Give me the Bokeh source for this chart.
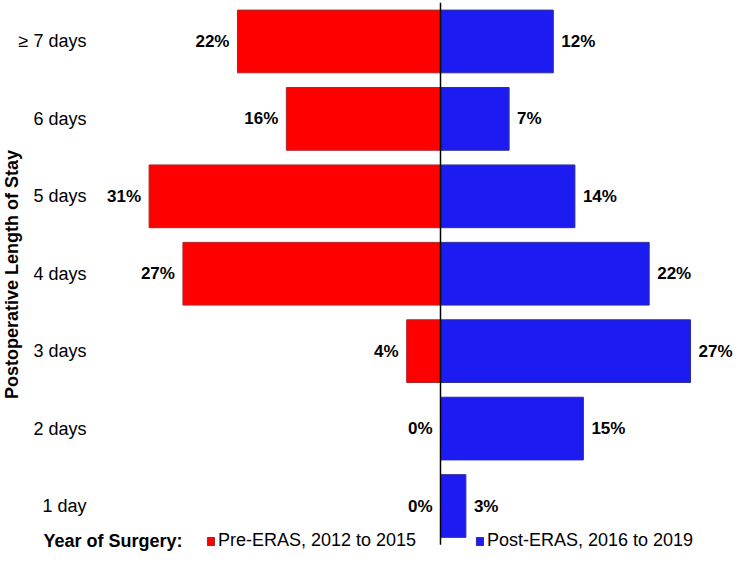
import math
from bokeh.plotting import figure
from bokeh.models import ColumnDataSource, Legend, LegendItem, Label, Range1d
from bokeh.core.properties import value
from bokeh.embed import file_html
from bokeh.resources import INLINE

# ---------------- data ----------------
categories = ["≥ 7 days", "6 days", "5 days", "4 days", "3 days", "2 days", "1 day"]
pre_eras = [21.6, 16.4, 31.0, 27.4, 3.6, 0.0, 0.0]
post_eras = [12.0, 7.3, 14.3, 22.2, 26.6, 15.2, 2.7]
pre_labels = ["22%", "16%", "31%", "27%", "4%", "0%", "0%"]
post_labels = ["12%", "7%", "14%", "22%", "27%", "15%", "3%"]
series_names = ["Pre-ERAS, 2012 to 2015", "Post-ERAS, 2016 to 2019"]
legend_title = "Year of Surgery:"
axis_title = "Postoperative Length of Stay"

# ---------------- geometry ----------------
W, H = 734, 551
PX_PER_PCT = 9.4
CENTER_PX = 440.0
ROW_PX = 77.42
BOTTOM_ROW_PX = 505.5  # from top of canvas

n = len(categories)
ypos = [n - 1 - i for i in range(n)]
x_start = -CENTER_PX / PX_PER_PCT
x_end = (W - CENTER_PX) / PX_PER_PCT
y_start = -(H - BOTTOM_ROW_PX) / ROW_PX
y_end = (n - 1) + (BOTTOM_ROW_PX - (n - 1) * ROW_PX) / ROW_PX

FONT_NAME = "Liberation Sans"
FONT = value(FONT_NAME)
FS = "18px"
FS_BOLD = "17px"

p = figure(width=W, height=H, x_range=Range1d(x_start, x_end), y_range=Range1d(y_start, y_end),
           output_backend="svg", toolbar_location=None, min_border=0,
           x_axis_location=None, y_axis_location=None)
p.grid.visible = False
p.outline_line_color = None
p.background_fill_color = "white"

src = ColumnDataSource(dict(
    y=ypos, cat=categories,
    pre_neg=[-v for v in pre_eras], post=post_eras,
    pre_lbl=pre_labels, post_lbl=post_labels,
))

r_pre = p.hbar(y="y", left="pre_neg", right=0, height=0.81, source=src,
               fill_color="#ff0000", line_color="#a8262c", line_width=1)
r_post = p.hbar(y="y", left=0, right="post", height=0.81, source=src,
                fill_color="#1c1cf2", line_color="#2e2e96", line_width=1)

# center line
p.segment(x0=[0], y0=[-0.5], x1=[0], y1=[n - 0.5], line_color="black", line_width=1.5)

# value labels
p.text(x="pre_neg", y="y", text="pre_lbl", source=src, x_offset=-8,
       text_align="right", text_baseline="middle", text_font=FONT,
       text_font_style="bold", text_font_size=FS_BOLD, text_color="black")
p.text(x="post", y="y", text="post_lbl", source=src, x_offset=8,
       text_align="left", text_baseline="middle", text_font=FONT,
       text_font_style="bold", text_font_size=FS_BOLD, text_color="black")

# category labels
p.text(x=x_start, y="y", text="cat", source=src, x_offset=86,
       text_align="right", text_baseline="middle", text_font=FONT,
       text_font_size=FS, text_color="black")

# axis title
p.text(x=[x_start], y=[y_end - 274 / ROW_PX], text=[axis_title], angle=math.pi / 2,
       x_offset=11, text_align="center", text_baseline="middle", text_font=FONT,
       text_font_style="bold", text_font_size=FS, text_color="black")

# legends
for r, name, lx in [(r_pre, series_names[0], 206), (r_post, series_names[1], 475)]:
    leg = Legend(items=[LegendItem(label=name, renderers=[r])], location=(lx, 0),
                 padding=0, margin=0, border_line_color=None, background_fill_alpha=0,
                 glyph_width=9, glyph_height=10, label_standoff=3,
                 label_text_font=FONT_NAME, label_text_font_size=FS, label_height=18,
                 label_text_color="black")
    p.add_layout(leg)

p.add_layout(Label(x=x_start + 43 / PX_PER_PCT, y=y_start + 11 / ROW_PX, text=legend_title,
                   text_font=FONT_NAME, text_font_style="bold", text_font_size=FS,
                   text_baseline="middle", text_align="left", text_color="black"))

open("out.html", "w").write(file_html(p, INLINE))
